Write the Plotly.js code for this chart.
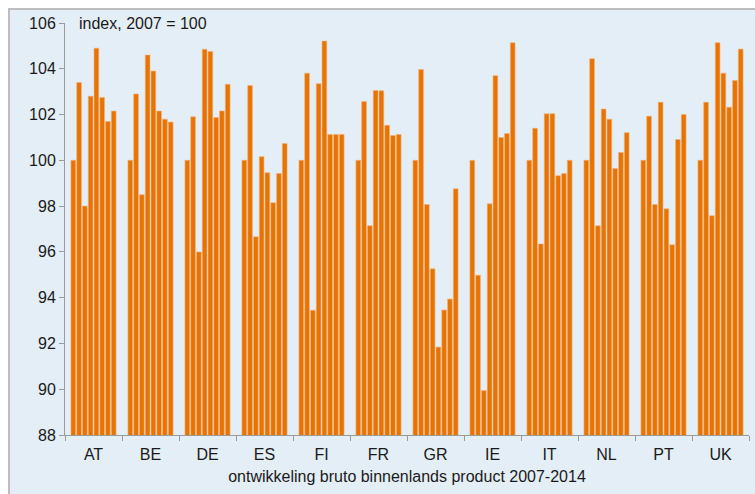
<!DOCTYPE html>
<html>
<head>
<meta charset="utf-8">
<script src="https://cdn.plot.ly/plotly-3.0.1.min.js"></script>
<style>html,body{margin:0;padding:0;background:#fff;}#chart{width:755px;height:494px;}</style>
</head>
<body>
<div id="chart"></div>
<script>
var countries = ["AT","BE","DE","ES","FI","FR","GR","IE","IT","NL","PT","UK"];
var years = ["2007","2008","2009","2010","2011","2012","2013","2014"];
var AT = [100, 103.4, 98.0, 102.8, 104.9, 102.75, 101.7, 102.15];
var BE = [100, 102.9, 98.5, 104.6, 103.9, 102.15, 101.8, 101.67];
var DE = [100, 101.9, 96.0, 104.85, 104.76, 101.87, 102.16, 103.32];
var ES = [100, 103.27, 96.66, 100.16, 99.46, 98.15, 99.42, 100.73];
var FI = [100, 103.81, 93.45, 103.35, 105.21, 101.13, 101.13, 101.13];
var FR = [100, 102.57, 97.14, 103.05, 103.04, 101.53, 101.08, 101.13];
var GR = [100, 103.97, 98.07, 95.26, 91.84, 93.46, 93.94, 98.76];
var IE = [100, 94.98, 89.94, 98.1, 103.7, 101.0, 101.17, 105.14];
var IT = [100, 101.4, 96.35, 102.03, 102.04, 99.33, 99.43, 100];
var NL = [100, 104.44, 97.14, 102.24, 101.8, 99.64, 100.34, 101.21];
var PT = [100, 101.93, 98.07, 102.54, 97.88, 96.31, 100.91, 102.0];
var UK = [100, 102.54, 97.58, 105.14, 103.81, 102.32, 103.49, 104.86];
var byCountry = [AT, BE, DE, ES, FI, FR, GR, IE, IT, NL, PT, UK];

var traces = years.map(function (yr, i) {
  return {
    type: "bar",
    name: yr,
    x: countries,
    y: byCountry.map(function (c) { return c[i]; }),
    base: 0,
    marker: { color: "#E87400", line: { color: "#F4B07A", width: 0.6 } },
    hoverinfo: "x+y+name"
  };
});

var layout = {
  width: 755, height: 494,
  margin: { l: 65, r: 6, t: 23, b: 59 },
  paper_bgcolor: "#ffffff",
  plot_bgcolor: "#E4EEF7",
  font: { family: "Liberation Sans, Arial, sans-serif", size: 16, color: "#1a1a1a" },
  barmode: "group",
  bargap: 0.19,
  bargroupgap: 0.18,
  showlegend: false,
  xaxis: {
    type: "category",
    tickson: "boundaries",
    ticks: "outside", ticklen: 5, tickcolor: "#9a9a9a", tickwidth: 1,
    ticklabelstandoff: 5,
    showline: true, linecolor: "#9a9a9a", linewidth: 1,
    showgrid: false, zeroline: false,
    tickfont: { size: 16 },
    title: { text: "ontwikkeling bruto binnenlands product 2007-2014", font: { size: 16 }, standoff: 8 }
  },
  yaxis: {
    range: [88, 106], dtick: 2, tick0: 88,
    ticks: "outside", ticklen: 5, tickcolor: "#9a9a9a", tickwidth: 1,
    showline: true, linecolor: "#9a9a9a", linewidth: 1,
    showgrid: false, zeroline: false,
    tickfont: { size: 16 }
  },
  shapes: [{
    type: "rect", xref: "paper", yref: "paper", layer: "below",
    x0: -0.0819, x1: 1.2, y0: -0.4, y1: 1.034,
    fillcolor: "#E4EEF7", line: { color: "#BDBDBD", width: 2 }
  }],
  annotations: [{
    xref: "paper", yref: "paper", x: 0.0175, y: 1, xanchor: "left", yanchor: "middle",
    text: "index, 2007 = 100", showarrow: false, font: { size: 16, color: "#1a1a1a" }
  }]
};

Plotly.newPlot("chart", traces, layout, { displayModeBar: false, staticPlot: true });
</script>
</body>
</html>
